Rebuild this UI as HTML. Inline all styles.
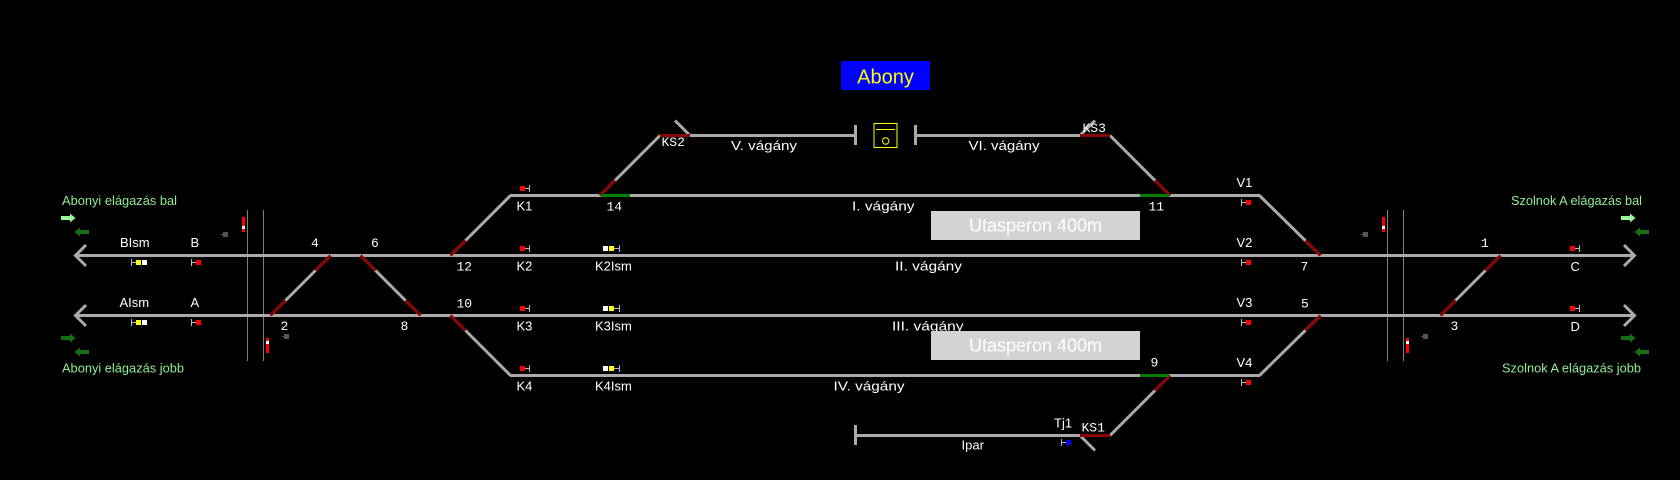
<!DOCTYPE html>
<html>
<head>
<meta charset="utf-8">
<style>
html,body{margin:0;padding:0;background:#000;}
svg{display:block;}
.t{font-family:"Liberation Sans",sans-serif;font-size:13px;fill:#fff;}
.m{font-family:"Liberation Mono",monospace;font-size:13px;fill:#fff;}
.g{font-family:"Liberation Sans",sans-serif;font-size:12.5px;fill:#90EE90;}
</style>
</head>
<body>
<svg width="1680" height="480" viewBox="0 0 1680 480" xmlns="http://www.w3.org/2000/svg">
<rect x="0" y="0" width="1680" height="480" fill="#000"/>

<!-- vertical boundary lines -->
<g stroke="#808080" stroke-width="1">
<line x1="247.5" y1="210" x2="247.5" y2="361"/>
<line x1="263.5" y1="210" x2="263.5" y2="361"/>
<line x1="1387.5" y1="210" x2="1387.5" y2="361"/>
<line x1="1403.5" y1="210" x2="1403.5" y2="361"/>
</g>

<!-- tracks -->
<g stroke="#AAAAAA" stroke-width="3" fill="none" stroke-linecap="butt">
<!-- II -->
<line x1="75" y1="255.5" x2="1635" y2="255.5"/>
<polyline points="86,245 75.5,255.5 86,266"/>
<polyline points="1624,245 1634.5,255.5 1624,266"/>
<!-- III -->
<line x1="75" y1="315.5" x2="1635" y2="315.5"/>
<polyline points="86,305 75.5,315.5 86,326"/>
<polyline points="1624,305 1634.5,315.5 1624,326"/>
<!-- I -->
<line x1="510" y1="195.5" x2="1260" y2="195.5"/>
<line x1="450.5" y1="255.5" x2="510.5" y2="195.5"/>
<line x1="1259.5" y1="195.5" x2="1320.5" y2="255.5"/>
<!-- IV -->
<line x1="510" y1="375.5" x2="1260" y2="375.5"/>
<line x1="450.5" y1="315.5" x2="510.5" y2="375.5"/>
<line x1="1259.5" y1="375.5" x2="1320.5" y2="315.5"/>
<!-- crossovers -->
<line x1="270.5" y1="315.5" x2="330.5" y2="255.5"/>
<line x1="360.5" y1="255.5" x2="420.5" y2="315.5"/>
<line x1="1440.5" y1="315.5" x2="1500.5" y2="255.5"/>
<!-- V track -->
<line x1="600" y1="195.5" x2="660" y2="135.5"/>
<line x1="660" y1="135.5" x2="855" y2="135.5"/>
<line x1="675" y1="120.5" x2="690" y2="135.5"/>
<line x1="855.5" y1="125" x2="855.5" y2="145"/>
<!-- VI track -->
<line x1="915.5" y1="125" x2="915.5" y2="145"/>
<line x1="916" y1="135.5" x2="1110" y2="135.5"/>
<line x1="1080" y1="135.5" x2="1095" y2="120.5"/>
<line x1="1110" y1="135.5" x2="1170" y2="195.5"/>
<!-- Ipar -->
<line x1="855.5" y1="425" x2="855.5" y2="445"/>
<line x1="855" y1="435.5" x2="1110" y2="435.5"/>
<line x1="1080" y1="435.5" x2="1095" y2="450.5"/>
<line x1="1170" y1="375.5" x2="1110" y2="435.5"/>
</g>

<!-- dark red switch ends -->
<g stroke="#8B0000" stroke-width="3" fill="none">
<line x1="450.5" y1="255.5" x2="465.5" y2="240.5"/>
<line x1="450.5" y1="315.5" x2="465.5" y2="330.5"/>
<line x1="1305.5" y1="240.5" x2="1320.5" y2="255.5"/>
<line x1="1305.5" y1="330.5" x2="1320.5" y2="315.5"/>
<line x1="270.5" y1="315.5" x2="285.5" y2="300.5"/>
<line x1="315.5" y1="270.5" x2="330.5" y2="255.5"/>
<line x1="360.5" y1="255.5" x2="375.5" y2="270.5"/>
<line x1="405.5" y1="300.5" x2="420.5" y2="315.5"/>
<line x1="1440.5" y1="315.5" x2="1455.5" y2="300.5"/>
<line x1="1485.5" y1="270.5" x2="1500.5" y2="255.5"/>
<line x1="600" y1="195.5" x2="615" y2="180.5"/>
<line x1="660" y1="135.5" x2="690" y2="135.5"/>
<line x1="1080" y1="135.5" x2="1110" y2="135.5"/>
<line x1="1155" y1="180.5" x2="1170" y2="195.5"/>
<line x1="1170" y1="375.5" x2="1155" y2="390.5"/>
<line x1="1080" y1="435.5" x2="1110" y2="435.5"/>
</g>

<!-- green occupied -->
<g stroke="#008000" stroke-width="3">
<line x1="601" y1="195.5" x2="630" y2="195.5"/>
<line x1="1140" y1="195.5" x2="1169" y2="195.5"/>
<line x1="1140" y1="375.5" x2="1169" y2="375.5"/>
</g>

<!-- Abony title -->
<rect x="841" y="61" width="89" height="29" fill="#0000FF"/>
<text x="885.5" y="83.5" text-anchor="middle" style="font-family:'Liberation Sans',sans-serif;font-size:20px;fill:#FFFF00;">Abony</text>

<!-- station building symbol -->
<rect x="874" y="123.5" width="23" height="24" fill="none" stroke="#FFFF00" stroke-width="1"/>
<line x1="876" y1="129.5" x2="895" y2="129.5" stroke="#FFFF00" stroke-width="1"/>
<circle cx="885.7" cy="141" r="3.2" fill="none" stroke="#FFFF00" stroke-width="1"/>

<!-- signals -->
<g stroke="#BBBBBB" stroke-width="1">
<!-- BIsm -->
<line x1="131.5" y1="259" x2="131.5" y2="266"/><line x1="131.5" y1="262.5" x2="136" y2="262.5"/>
<!-- B -->
<line x1="191.5" y1="259" x2="191.5" y2="266"/><line x1="191.5" y1="262.5" x2="196" y2="262.5"/>
<!-- AIsm -->
<line x1="131.5" y1="319" x2="131.5" y2="326"/><line x1="131.5" y1="322.5" x2="136" y2="322.5"/>
<!-- A -->
<line x1="191.5" y1="319" x2="191.5" y2="326"/><line x1="191.5" y1="322.5" x2="196" y2="322.5"/>
<!-- K1..K4 -->
<line x1="529.5" y1="185" x2="529.5" y2="192"/><line x1="525" y1="188.5" x2="529.5" y2="188.5"/>
<line x1="529.5" y1="245" x2="529.5" y2="252"/><line x1="525" y1="248.5" x2="529.5" y2="248.5"/>
<line x1="529.5" y1="305" x2="529.5" y2="312"/><line x1="525" y1="308.5" x2="529.5" y2="308.5"/>
<line x1="529.5" y1="365" x2="529.5" y2="372"/><line x1="525" y1="368.5" x2="529.5" y2="368.5"/>
<!-- K2Ism..K4Ism -->
<line x1="619.5" y1="245" x2="619.5" y2="252"/><line x1="614" y1="248.5" x2="619.5" y2="248.5"/>
<line x1="619.5" y1="305" x2="619.5" y2="312"/><line x1="614" y1="308.5" x2="619.5" y2="308.5"/>
<line x1="619.5" y1="365" x2="619.5" y2="372"/><line x1="614" y1="368.5" x2="619.5" y2="368.5"/>
<!-- V1..V4 -->
<line x1="1241.5" y1="199" x2="1241.5" y2="206"/><line x1="1241.5" y1="202.5" x2="1246" y2="202.5"/>
<line x1="1241.5" y1="259" x2="1241.5" y2="266"/><line x1="1241.5" y1="262.5" x2="1246" y2="262.5"/>
<line x1="1241.5" y1="319" x2="1241.5" y2="326"/><line x1="1241.5" y1="322.5" x2="1246" y2="322.5"/>
<line x1="1241.5" y1="379" x2="1241.5" y2="386"/><line x1="1241.5" y1="382.5" x2="1246" y2="382.5"/>
<!-- C, D -->
<line x1="1579.5" y1="245" x2="1579.5" y2="252"/><line x1="1575" y1="248.5" x2="1579.5" y2="248.5"/>
<line x1="1579.5" y1="305" x2="1579.5" y2="312"/><line x1="1575" y1="308.5" x2="1579.5" y2="308.5"/>
<!-- Tj1 -->
<line x1="1061.5" y1="439" x2="1061.5" y2="446"/><line x1="1061.5" y1="442.5" x2="1066" y2="442.5"/>
</g>
<g>
<rect x="136" y="260" width="5" height="5" fill="#FFFF00"/><rect x="142" y="260" width="5" height="5" fill="#FFFFFF"/>
<rect x="196" y="260" width="5" height="5" fill="#FF0000"/>
<rect x="136" y="320" width="5" height="5" fill="#FFFF00"/><rect x="142" y="320" width="5" height="5" fill="#FFFFFF"/>
<rect x="196" y="320" width="5" height="5" fill="#FF0000"/>
<rect x="520" y="186" width="5" height="5" fill="#FF0000"/>
<rect x="520" y="246" width="5" height="5" fill="#FF0000"/>
<rect x="520" y="306" width="5" height="5" fill="#FF0000"/>
<rect x="520" y="366" width="5" height="5" fill="#FF0000"/>
<rect x="603" y="246" width="5" height="5" fill="#FFFFFF"/><rect x="609" y="246" width="5" height="5" fill="#FFFF00"/>
<rect x="603" y="306" width="5" height="5" fill="#FFFFFF"/><rect x="609" y="306" width="5" height="5" fill="#FFFF00"/>
<rect x="603" y="366" width="5" height="5" fill="#FFFFFF"/><rect x="609" y="366" width="5" height="5" fill="#FFFF00"/>
<rect x="1246" y="200" width="5" height="5" fill="#FF0000"/>
<rect x="1246" y="260" width="5" height="5" fill="#FF0000"/>
<rect x="1246" y="320" width="5" height="5" fill="#FF0000"/>
<rect x="1246" y="380" width="5" height="5" fill="#FF0000"/>
<rect x="1570" y="246" width="5" height="5" fill="#FF0000"/>
<rect x="1570" y="306" width="5" height="5" fill="#FF0000"/>
<rect x="1066" y="440" width="5" height="5" fill="#0000FF"/>
</g>

<!-- small gray squares -->
<g fill="#555555">
<rect x="223" y="232" width="5" height="5"/><rect x="221" y="234" width="2" height="1"/>
<rect x="284" y="334" width="5" height="5"/><rect x="282" y="336" width="2" height="1"/>
<rect x="1363" y="232" width="5" height="5"/><rect x="1361" y="234" width="2" height="1"/>
<rect x="1423" y="334" width="5" height="5"/><rect x="1421" y="336" width="2" height="1"/>
</g>

<!-- red vertical markers -->
<g>
<rect x="242" y="217" width="3" height="15" fill="#FF0000"/><rect x="242" y="226" width="3" height="3" fill="#FFFFFF"/>
<rect x="266" y="338" width="3" height="15" fill="#FF0000"/><rect x="266" y="341" width="3" height="3" fill="#FFFFFF"/>
<rect x="1382" y="217" width="3" height="15" fill="#FF0000"/><rect x="1382" y="226" width="3" height="3" fill="#FFFFFF"/>
<rect x="1406" y="338" width="3" height="15" fill="#FF0000"/><rect x="1406" y="341" width="3" height="3" fill="#FFFFFF"/>
</g>

<!-- direction arrows -->
<g>
<rect x="61" y="216" width="10" height="4" fill="#98FB98"/><polygon points="70,213.5 75.5,218 70,222.5" fill="#98FB98"/>
<rect x="79" y="230" width="10" height="4" fill="#146E14"/><polygon points="80,227.5 74.5,232 80,236.5" fill="#146E14"/>
<rect x="61" y="336" width="10" height="4" fill="#146E14"/><polygon points="70,333.5 75.5,338 70,342.5" fill="#146E14"/>
<rect x="79" y="350" width="10" height="4" fill="#146E14"/><polygon points="80,347.5 74.5,352 80,356.5" fill="#146E14"/>
<rect x="1621" y="216" width="10" height="4" fill="#98FB98"/><polygon points="1630,213.5 1635.5,218 1630,222.5" fill="#98FB98"/>
<rect x="1639" y="230" width="10" height="4" fill="#146E14"/><polygon points="1640,227.5 1634.5,232 1640,236.5" fill="#146E14"/>
<rect x="1621" y="336" width="10" height="4" fill="#146E14"/><polygon points="1630,333.5 1635.5,338 1630,342.5" fill="#146E14"/>
<rect x="1639" y="350" width="10" height="4" fill="#146E14"/><polygon points="1640,347.5 1634.5,352 1640,356.5" fill="#146E14"/>
</g>

<!-- green labels -->
<text class="g" x="62" y="205" textLength="115" lengthAdjust="spacingAndGlyphs">Abonyi elágazás bal</text>
<text class="g" x="62" y="372.5" textLength="122" lengthAdjust="spacingAndGlyphs">Abonyi elágazás jobb</text>
<text class="g" x="1511" y="205" textLength="131" lengthAdjust="spacingAndGlyphs">Szolnok A elágazás bal</text>
<text class="g" x="1502" y="372.5" textLength="139" lengthAdjust="spacingAndGlyphs">Szolnok A elágazás jobb</text>

<!-- signal labels -->
<text class="t" x="120" y="247">BIsm</text>
<text class="t" x="190.5" y="247">B</text>
<text class="t" x="119.5" y="307">AIsm</text>
<text class="t" x="190.5" y="307">A</text>
<text class="t" x="516.5" y="210.5">K1</text>
<text class="t" x="516.5" y="270.5">K2</text>
<text class="t" x="516.5" y="330.5">K3</text>
<text class="t" x="516.5" y="390.5">K4</text>
<text class="t" x="595" y="270.5">K2Ism</text>
<text class="t" x="595" y="330.5">K3Ism</text>
<text class="t" x="595" y="390.5">K4Ism</text>
<text class="t" x="1236.5" y="187">V1</text>
<text class="t" x="1236.5" y="247">V2</text>
<text class="t" x="1236.5" y="307">V3</text>
<text class="t" x="1236.5" y="367">V4</text>
<text class="t" x="1570.5" y="271">C</text>
<text class="t" x="1570.5" y="331">D</text>
<text class="t" x="1054" y="427.5">Tj1</text>
<text class="t" x="961.5" y="449.5">Ipar</text>

<!-- track labels -->
<text class="t" x="731" y="150" textLength="66" lengthAdjust="spacingAndGlyphs">V. vágány</text>
<text class="t" x="968.5" y="150" textLength="71" lengthAdjust="spacingAndGlyphs">VI. vágány</text>
<text class="t" x="852" y="210.5" textLength="62.5" lengthAdjust="spacingAndGlyphs">I. vágány</text>
<text class="t" x="895" y="270.5" textLength="67" lengthAdjust="spacingAndGlyphs">II. vágány</text>
<text class="t" x="892" y="330.5" textLength="71.5" lengthAdjust="spacingAndGlyphs">III. vágány</text>
<text class="t" x="833.5" y="390.5" textLength="71" lengthAdjust="spacingAndGlyphs">IV. vágány</text>

<!-- numbers / switch labels -->
<text class="m" x="661.5" y="146">KS2</text>
<text class="m" x="1082.5" y="132">KS3</text>
<text class="m" x="1081.5" y="431.5">KS1</text>
<text class="m" x="606.5" y="210.5">14</text>
<text class="m" x="456.5" y="270.5">12</text>
<text class="m" x="456.5" y="307.5">10</text>
<text class="m" x="1148.5" y="210.5">11</text>
<text class="m" x="1150.5" y="366.5">9</text>
<text class="m" x="311" y="247">4</text>
<text class="m" x="371" y="247">6</text>
<text class="m" x="280.5" y="330">2</text>
<text class="m" x="400.5" y="330">8</text>
<text class="m" x="1300.5" y="270.5">7</text>
<text class="m" x="1301" y="307.5">5</text>
<text class="m" x="1481" y="247">1</text>
<text class="m" x="1450.5" y="330">3</text>

<!-- platforms -->
<rect x="931" y="211" width="209" height="29" fill="#D3D3D3"/>
<text x="1035.5" y="231.5" text-anchor="middle" style="font-family:'Liberation Sans',sans-serif;font-size:18px;fill:#FFFFFF;">Utasperon 400m</text>
<rect x="931" y="331" width="209" height="29" fill="#D3D3D3"/>
<text x="1035.5" y="351.5" text-anchor="middle" style="font-family:'Liberation Sans',sans-serif;font-size:18px;fill:#FFFFFF;">Utasperon 400m</text>
</svg>
</body>
</html>
